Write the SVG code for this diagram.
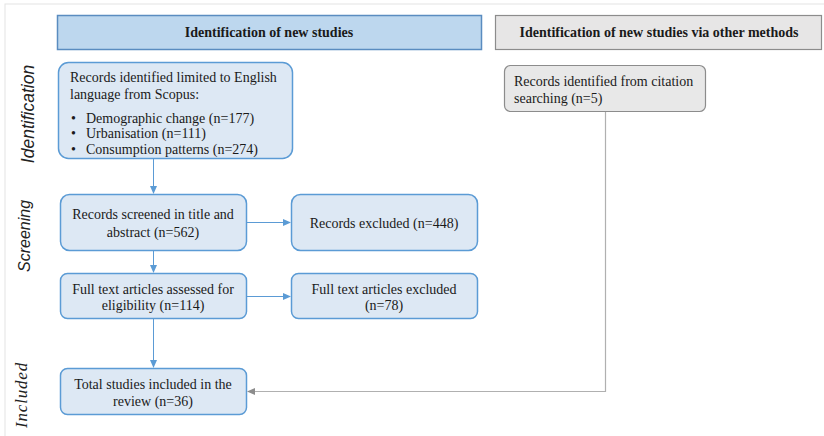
<svg xmlns="http://www.w3.org/2000/svg" width="824" height="436" viewBox="0 0 824 436">
<defs>
<marker id="ab" markerWidth="8" markerHeight="8" refX="7" refY="4" orient="auto" markerUnits="userSpaceOnUse"><path d="M0,0.5 L8,4 L0,7.5 z" fill="#5b9bd5"/></marker>
<marker id="ag" markerWidth="8" markerHeight="8" refX="7" refY="4" orient="auto" markerUnits="userSpaceOnUse"><path d="M0,0.5 L8,4 L0,7.5 z" fill="#8c8c8c"/></marker>
</defs>
<style>
.t{font-family:"Liberation Serif","Times New Roman",serif;font-size:14px;fill:#1a1a1a}
.h{font-family:"Liberation Serif","Times New Roman",serif;font-size:14px;font-weight:bold;fill:#1a1a1a}
.s{font-family:"Liberation Sans",Arial,sans-serif;font-style:italic;font-size:16px;fill:#222}
.bx{fill:#dde8f4;stroke:#5b9bd5;stroke-width:1.5}
.gx{fill:#e8e8e8;stroke:#8c8c8c;stroke-width:1.2}
.cb{stroke:#5b9bd5;stroke-width:1;fill:none}
.cg{stroke:#b0b0b0;stroke-width:1.2;fill:none}
</style>
<rect x="5" y="4" width="830" height="440" fill="none" stroke="#e3e3e3"/>
<text class="s" transform="translate(34,114) rotate(-90)" text-anchor="middle" style="font-size:17.5px">Identification</text>
<text class="s" transform="translate(30,236) rotate(-90)" text-anchor="middle">Screening</text>
<text transform="translate(27,395) rotate(-90)" text-anchor="middle" style="font-family:'Liberation Serif','Times New Roman',serif;font-style:italic;font-size:17px;letter-spacing:0.8px;fill:#222">Included</text>
<g id="hdr1"><rect x="57.5" y="15.5" width="424" height="34" fill="#bdd7ee" stroke="#5a8cc0" stroke-width="1.5"/><text class="h" x="269" y="37" text-anchor="middle">Identification of new studies</text></g>
<g id="hdr2"><rect x="495.5" y="15.5" width="326" height="34" fill="#e7e6e6" stroke="#8c8c8c" stroke-width="1.2"/><text class="h" x="659" y="37" text-anchor="middle">Identification of new studies via other methods</text></g>
<g id="n1"><rect class="bx" x="58.5" y="62.5" width="234" height="96" rx="10"/>
<text class="t" x="70" y="82">Records identified limited to English</text>
<text class="t" x="70" y="99">language from Scopus:</text>
<text class="t" x="71" y="123">•</text><text class="t" x="86" y="123">Demographic change (n=177)</text>
<text class="t" x="71" y="138">•</text><text class="t" x="86" y="138">Urbanisation (n=111)</text>
<text class="t" x="71" y="154">•</text><text class="t" x="86" y="154">Consumption patterns (n=274)</text></g>
<g id="n2"><rect class="gx" x="504.5" y="65.5" width="201" height="46" rx="6"/>
<text class="t" x="514" y="86">Records identified from citation</text>
<text class="t" x="514" y="103">searching (n=5)</text></g>
<g id="n3"><rect class="bx" x="60.5" y="194.5" width="186" height="56" rx="9"/>
<text class="t" x="153" y="219" text-anchor="middle">Records screened in title and</text>
<text class="t" x="153" y="237" text-anchor="middle">abstract (n=562)</text></g>
<g id="n4"><rect class="bx" x="291.5" y="194.5" width="186" height="56" rx="9"/>
<text class="t" x="384" y="228" text-anchor="middle">Records excluded (n=448)</text></g>
<g id="n5"><rect class="bx" x="60.5" y="273.5" width="186" height="45" rx="7"/>
<text class="t" x="153" y="294" text-anchor="middle">Full text articles assessed for</text>
<text class="t" x="153" y="310" text-anchor="middle">eligibility  (n=114)</text></g>
<g id="n6"><rect class="bx" x="291.5" y="273.5" width="186" height="45" rx="7"/>
<text class="t" x="384" y="294" text-anchor="middle">Full text articles excluded</text>
<text class="t" x="384" y="310" text-anchor="middle">(n=78)</text></g>
<g id="n7"><rect class="bx" x="60.5" y="368.5" width="186" height="46" rx="7"/>
<text class="t" x="153" y="389" text-anchor="middle">Total studies included in the</text>
<text class="t" x="153" y="406" text-anchor="middle">review (n=36)</text></g>
<g id="connectors">
<line class="cb" x1="153.5" y1="159" x2="153.5" y2="193" marker-end="url(#ab)"/>
<line class="cb" x1="153.5" y1="251" x2="153.5" y2="272" marker-end="url(#ab)"/>
<line class="cb" x1="153.5" y1="319" x2="153.5" y2="367" marker-end="url(#ab)"/>
<line class="cb" x1="247" y1="222.5" x2="290" y2="222.5" marker-end="url(#ab)"/>
<line class="cb" x1="247" y1="296.5" x2="290" y2="296.5" marker-end="url(#ab)"/>
<path class="cg" d="M605.5,112 V391.5 H248" marker-end="url(#ag)"/>
</g>
</svg>
